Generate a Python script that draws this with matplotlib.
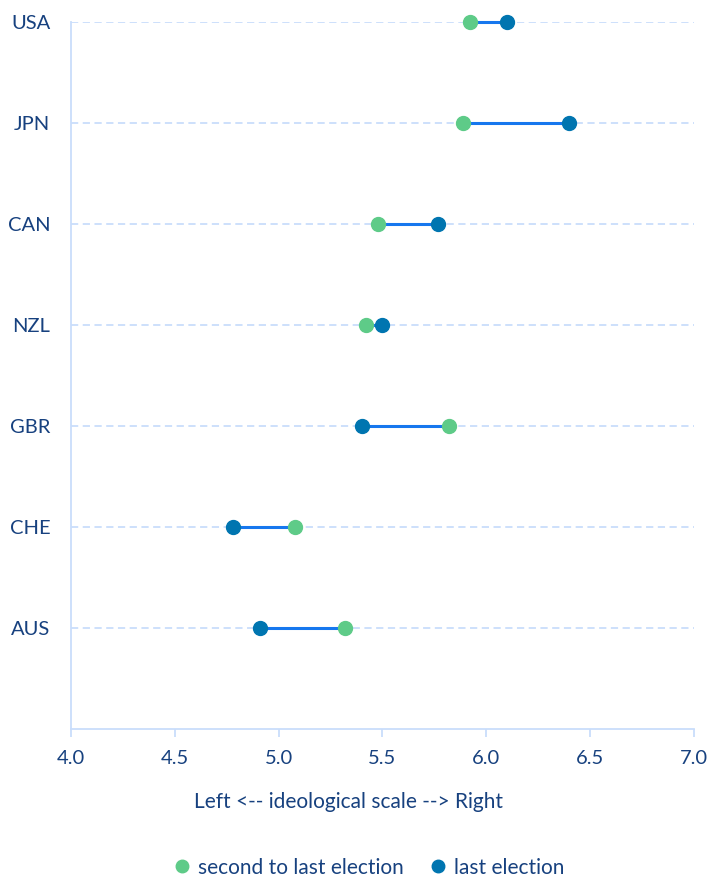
import matplotlib.pyplot as plt
from matplotlib.lines import Line2D

COUNTRIES = ["USA", "JPN", "CAN", "NZL", "GBR", "CHE", "AUS"]
SECOND_TO_LAST = [5.92, 5.89, 5.48, 5.42, 5.82, 5.08, 5.32]
LAST = [6.10, 6.40, 5.77, 5.50, 5.40, 4.78, 4.91]
XTICKS = [4.0, 4.5, 5.0, 5.5, 6.0, 6.5, 7.0]

GREEN = "#5ecb88"
BLUE = "#0075b0"
LINE = "#1677ee"
GRID = "#c9ddfb"
TEXT = "#17417f"

plt.rcParams["font.family"] = ["Lato", "DejaVu Sans"]

fig = plt.figure(figsize=(7.1, 8.81), dpi=100)
ax = fig.add_axes([0.1, 0.1725, 0.877, 0.8025])

n = len(COUNTRIES)
ys = [n - i for i in range(n)]

for y in ys:
    ax.axhline(y, color=GRID, lw=1.3, ls=(0, (4, 2.5)), zorder=1)

for y, a, b in zip(ys, SECOND_TO_LAST, LAST):
    ax.plot([a, b], [y, y], color=LINE, lw=2.2, zorder=2, clip_on=False)
ax.plot(SECOND_TO_LAST, ys, "o", color=GREEN, ms=10, zorder=3, clip_on=False)
ax.plot(LAST, ys, "o", color=BLUE, ms=10, zorder=3, clip_on=False)

ax.set_xlim(4.0, 7.0)
ax.set_ylim(0, n)
ax.set_xticks(XTICKS)
ax.set_xticklabels([f"{v:.1f}" for v in XTICKS], fontsize=14.5, color=TEXT)
ax.set_yticks(ys)
ax.set_yticklabels(COUNTRIES, fontsize=14.5, color=TEXT)
ax.tick_params(axis="y", length=0, pad=15)
ax.tick_params(axis="x", length=6, width=1.3, color=GRID, pad=9)
ax.set_xlabel("Left <-- ideological scale --> Right", fontsize=15, color=TEXT)
ax.xaxis.set_label_coords(0.446, -0.089)

for s in ("top", "right"):
    ax.spines[s].set_visible(False)
for s in ("left", "bottom"):
    ax.spines[s].set_color(GRID)
    ax.spines[s].set_linewidth(1.3)

handles = [
    Line2D([], [], marker="o", ls="", color=GREEN, ms=9, label="second to last election"),
    Line2D([], [], marker="o", ls="", color=BLUE, ms=9, label="last election"),
]
fig.legend(handles=handles, loc="center", bbox_to_anchor=(0.511, 0.015), ncol=2,
           frameon=False, fontsize=15, labelcolor=TEXT, handletextpad=-0.2,
           columnspacing=0.6)

fig.savefig("out.png", dpi=100)
